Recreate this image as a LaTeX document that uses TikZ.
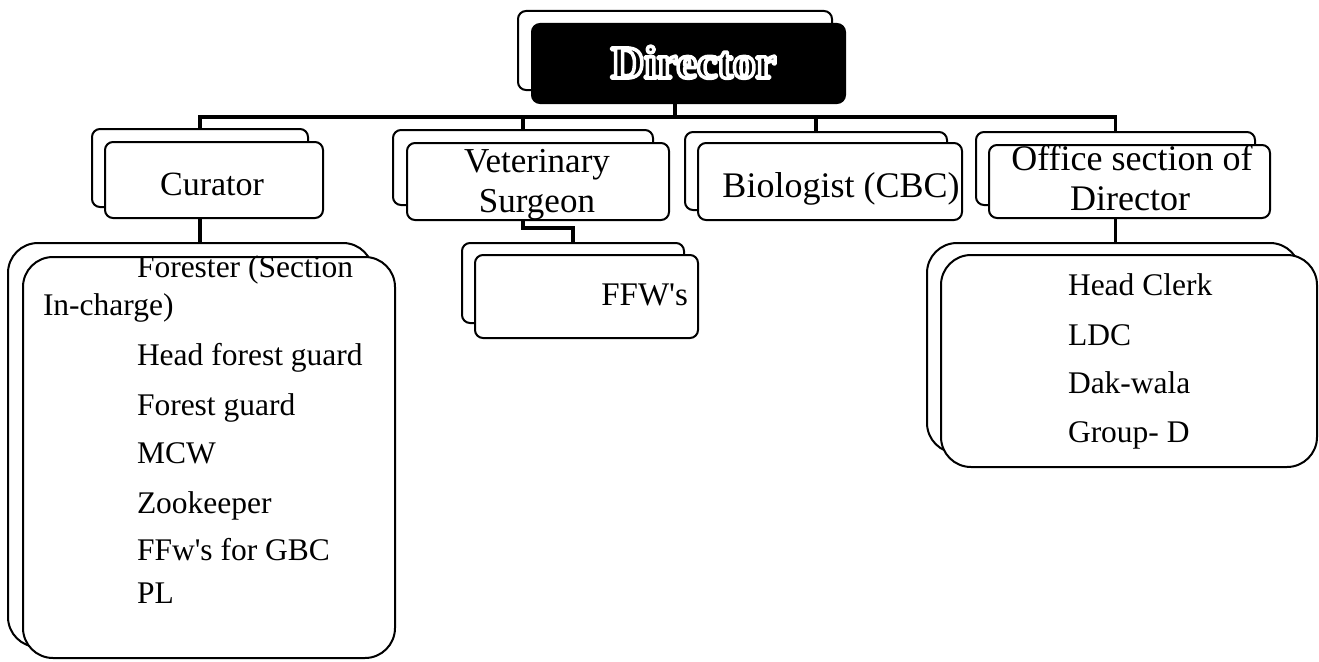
\documentclass[tikz,border=0pt]{standalone}
\usepackage{fontspec}
\setmainfont{Liberation Serif}
\newcommand\myfs[1]{\fontsize{#1}{#1}\selectfont}
\begin{document}
\begin{tikzpicture}[x=1pt,y=-1pt,
  box/.style={draw=black, line width=2pt, fill=white, rounded corners=8pt, inner sep=0pt, outer sep=0pt},
  bigbox/.style={box, rounded corners=30pt},
  conn/.style={line width=3.5pt},
  txt/.style={inner sep=0pt, outer sep=0pt, anchor=base},
  lst/.style={inner sep=0pt, outer sep=0pt, anchor=base west, font=\myfs{31.5}}]
\useasboundingbox[fill=white] (0,0) rectangle (1319,661);
\coordinate (bar) at (0,117);
% boxes (back then front)
\node[box, minimum width=314pt, minimum height=79pt] (dirb) at (675,50.5) {};
\node[box, minimum width=216pt, minimum height=78pt] (curb) at (200,168) {};
\node[box, minimum width=260pt, minimum height=75pt] (vetb) at (523,167.5) {};
\node[box, minimum width=262pt, minimum height=78pt] (biob) at (816,171) {};
\node[box, minimum width=279pt, minimum height=73pt] (offb) at (1115.5,168.5) {};
% connectors
\draw[conn] (curb.north) -- (curb.north |- bar) -- (offb.north |- bar) -- (offb.north);
\draw[conn] (vetb.north) -- (vetb.north |- bar);
\draw[conn] (biob.north) -- (biob.north |- bar);
\node[box, fill=black, minimum width=313pt, minimum height=79pt] (dirf) at (688.5,63.5) {};
\draw[conn] (dirb.center |- dirf.south) -- (dirb.center |- bar);
\node[box, minimum width=218pt, minimum height=76pt] (curf) at (214,180) {};
\node[box, minimum width=262pt, minimum height=77pt] (vetf) at (538,181.5) {};
\node[box, minimum width=264pt, minimum height=77pt] (biof) at (830,181.5) {};
\node[box, minimum width=281pt, minimum height=73pt] (offf) at (1129.5,181.5) {};
% lower boxes
\node[box, minimum width=222pt, minimum height=80pt] (ffwb) at (573,283) {};
\node[bigbox, minimum width=365pt, minimum height=404pt] (leftb) at (190.5,445) {};
\node[bigbox, minimum width=373pt, minimum height=210pt] (rightb) at (1113.5,348) {};
\draw[conn] (curb.center |- curf.south) -- (curb.center |- leftb.north);
\draw[conn] (offb.center |- offf.south) -- (offb.center |- rightb.north);
\draw[conn] (vetb.center |- vetf.south) -- ++(0,8) -| (ffwb.north);
\node[box, minimum width=223pt, minimum height=83pt] (ffwf) at (586.5,296.5) {};
\node[bigbox, minimum width=372pt, minimum height=401pt] (leftf) at (209,457.5) {};
\node[bigbox, minimum width=376pt, minimum height=212pt] (rightf) at (1129,361) {};
% Director text (white outline on black)
\node[txt, text=black, font=\myfs{46}\bfseries] (dirt) at (693.5,78)
  {\special{pdf:literal 1 1 1 RG 3.6 w 1 j 2 Tr}Director\special{pdf:literal 0 Tr 0 0 0 RG}};
% texts
\node[txt, font=\myfs{34}] (curt) at (212,195) {Curator};
\node[txt, font=\myfs{35}] (vett1) at (537,172) {Veterinary};
\node[txt, font=\myfs{35}] (vett2) at (537,212) {Surgeon};
\node[txt, font=\myfs{36}] (biot) at (841,197) {Biologist (CBC)};
\node[txt, font=\myfs{36}] (offt1) at (1132,170) {Office section of};
\node[txt, font=\myfs{36}] (offt2) at (1130,210) {Director};
\node[txt, anchor=base east, font=\myfs{33}] (ffwt) at (688,305) {FFW\textquotesingle s};
\node[lst] (l1) at (137,277) {Forester (Section};
\node[lst] (l2) at (43,315) {In-charge)};
\node[lst] (l3) at (137,365) {Head forest guard};
\node[lst] (l4) at (137,415) {Forest guard};
\node[lst] (l5) at (137,463) {MCW};
\node[lst] (l6) at (137,513) {Zookeeper};
\node[lst] (l7) at (137,560) {FFw\textquotesingle s for GBC};
\node[lst] (l8) at (137,603) {PL};
\node[lst] (r1) at (1068,295) {Head Clerk};
\node[lst] (r2) at (1068,345) {LDC};
\node[lst] (r3) at (1068,393) {Dak-wala};
\node[lst] (r4) at (1068,442) {Group- D};
\end{tikzpicture}
\end{document}
